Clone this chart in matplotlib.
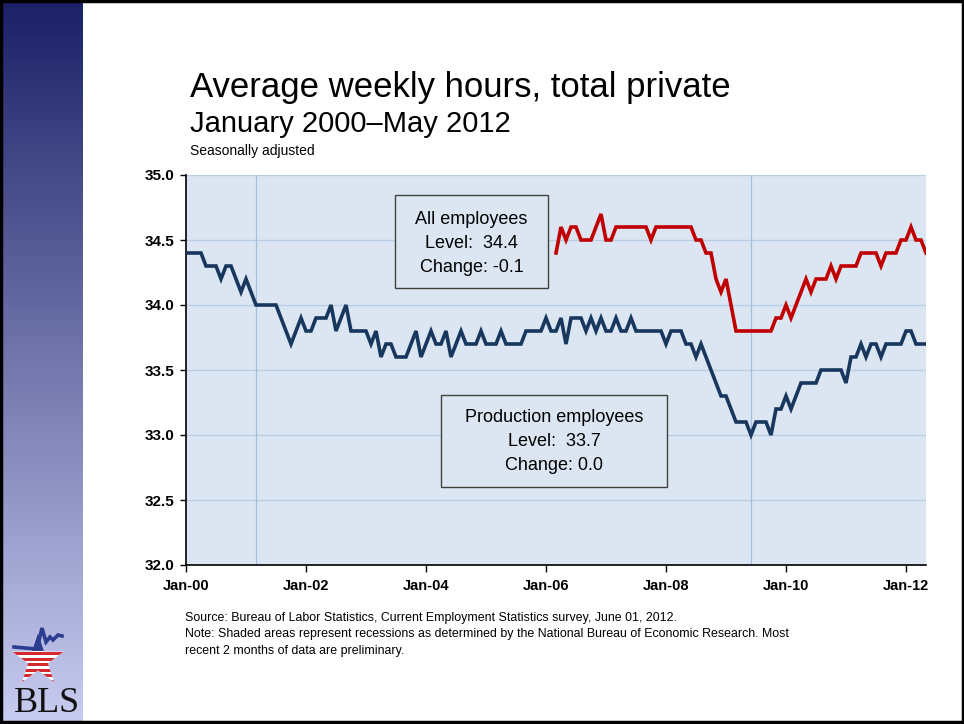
"""
Average weekly hours, total private (BLS chart)
"""

import numpy as np
import matplotlib
matplotlib.use('Agg')
import matplotlib.pyplot as plt
from matplotlib import font_manager
from matplotlib.patches import Rectangle, Polygon

# ------------------------------------------------------------------ data
# monthly, Jan 2000 .. May 2012 (index 0 = Jan-00)
production = [
    34.4, 34.4, 34.4, 34.4, 34.3, 34.3, 34.3, 34.2, 34.3, 34.3, 34.2, 34.1,  # 2000
    34.2, 34.1, 34.0, 34.0, 34.0, 34.0, 34.0, 33.9, 33.8, 33.7, 33.8, 33.9,  # 2001
    33.8, 33.8, 33.9, 33.9, 33.9, 34.0, 33.8, 33.9, 34.0, 33.8, 33.8, 33.8,  # 2002
    33.8, 33.7, 33.8, 33.6, 33.7, 33.7, 33.6, 33.6, 33.6, 33.7, 33.8, 33.6,  # 2003
    33.7, 33.8, 33.7, 33.7, 33.8, 33.6, 33.7, 33.8, 33.7, 33.7, 33.7, 33.8,  # 2004
    33.7, 33.7, 33.7, 33.8, 33.7, 33.7, 33.7, 33.7, 33.8, 33.8, 33.8, 33.8,  # 2005
    33.9, 33.8, 33.8, 33.9, 33.7, 33.9, 33.9, 33.9, 33.8, 33.9, 33.8, 33.9,  # 2006
    33.8, 33.8, 33.9, 33.8, 33.8, 33.9, 33.8, 33.8, 33.8, 33.8, 33.8, 33.8,  # 2007
    33.7, 33.8, 33.8, 33.8, 33.7, 33.7, 33.6, 33.7, 33.6, 33.5, 33.4, 33.3,  # 2008
    33.3, 33.2, 33.1, 33.1, 33.1, 33.0, 33.1, 33.1, 33.1, 33.0, 33.2, 33.2,  # 2009
    33.3, 33.2, 33.3, 33.4, 33.4, 33.4, 33.4, 33.5, 33.5, 33.5, 33.5, 33.5,  # 2010
    33.4, 33.6, 33.6, 33.7, 33.6, 33.7, 33.7, 33.6, 33.7, 33.7, 33.7, 33.7,  # 2011
    33.8, 33.8, 33.7, 33.7, 33.7,                                            # 2012
]

# all employees series starts Mar 2006 (index 74)
all_start = 74
all_employees = [
    34.4, 34.6, 34.5, 34.6, 34.6, 34.5, 34.5, 34.5, 34.6, 34.7,              # 2006
    34.5, 34.5, 34.6, 34.6, 34.6, 34.6, 34.6, 34.6, 34.6, 34.5, 34.6, 34.6,  # 2007
    34.6, 34.6, 34.6, 34.6, 34.6, 34.6, 34.5, 34.5, 34.4, 34.4, 34.2, 34.1,  # 2008
    34.2, 34.0, 33.8, 33.8, 33.8, 33.8, 33.8, 33.8, 33.8, 33.8, 33.9, 33.9,  # 2009
    34.0, 33.9, 34.0, 34.1, 34.2, 34.1, 34.2, 34.2, 34.2, 34.3, 34.2, 34.3,  # 2010
    34.3, 34.3, 34.3, 34.4, 34.4, 34.4, 34.4, 34.3, 34.4, 34.4, 34.4, 34.5,  # 2011
    34.5, 34.6, 34.5, 34.5, 34.4,                                            # 2012
]

tick_pos = [0, 24, 48, 72, 96, 120, 144]
tick_labels = ['Jan-00', 'Jan-02', 'Jan-04', 'Jan-06', 'Jan-08', 'Jan-10', 'Jan-12']
y_ticks = [32.0, 32.5, 33.0, 33.5, 34.0, 34.5, 35.0]
recession_marks = [14, 113]   # Mar 2001, Jun 2009

all_box = ['All employees', 'Level:  34.4', 'Change: -0.1']
prod_box = ['Production employees', 'Level:  33.7', 'Change: 0.0']

source_lines = [
    'Source: Bureau of Labor Statistics, Current Employment Statistics survey, June 01, 2012.',
    'Note: Shaded areas represent recessions as determined by the National Bureau of Economic Research. Most',
    'recent 2 months of data are preliminary.',
]

# ------------------------------------------------------------------ fonts
names = {f.name for f in font_manager.fontManager.ttflist}
main_font = 'Liberation Sans'
if 'Liberation Sans Narrow' in names:
    note_font, note_size = 'Liberation Sans Narrow', 9.6
else:
    note_font, note_size = 'Liberation Sans', 8.9
plt.rcParams['font.family'] = [main_font, 'DejaVu Sans']

W, H = 964, 724
fig = plt.figure(figsize=(W / 100, H / 100), dpi=100)
fig.patch.set_facecolor('white')

# background layer in pixel coordinates
bg = fig.add_axes([0, 0, 1, 1], zorder=0)
bg.set_xlim(0, W)
bg.set_ylim(H, 0)
bg.axis('off')

# sidebar gradient
top_c = np.array([28, 33, 104]) / 255
bot_c = np.array([200, 204, 240]) / 255
t = np.linspace(0, 1, 256)[:, None]
grad = (top_c * (1 - t) + bot_c * t)[:, None, :]
bg.imshow(grad, extent=[3, 83, 721, 3], aspect='auto', zorder=1)

# ------------------------------------------------------------------ BLS logo
cx, cy, r_out, r_in = 38, 660, 27, 10.5
ang = np.pi / 2 + np.arange(10) * np.pi / 5
rr = np.where(np.arange(10) % 2 == 0, r_out, r_in)
star_pts = np.column_stack([cx + rr * np.cos(ang), cy - rr * np.sin(ang)])
star = Polygon(star_pts, closed=True, fc='white', ec='none', zorder=2)
bg.add_patch(star)
blue_top = Rectangle((0, 620), 90, 31, fc='#2b3d8f', ec='none', zorder=3)
bg.add_patch(blue_top)
blue_top.set_clip_path(star)
for k in range(6):
    s = Rectangle((0, 652 + k * 5.6), 90, 3.0, fc='#d42a2f', ec='none', zorder=3)
    bg.add_patch(s)
    s.set_clip_path(star)
bg.plot([14, 37, 42, 46, 50, 53, 58, 62], [647, 649, 628, 642, 637, 640, 635, 636],
        color='#2b3d8f', lw=2.6, zorder=4, solid_joinstyle='miter')
bg.text(47, 712, 'BLS', family='Liberation Serif', fontsize=26, color='#111111',
        ha='center', va='baseline', zorder=4)

# frame
bg.add_patch(Rectangle((1, 1), W - 2.5, H - 3, fill=False, ec='black', lw=2.5, zorder=5))

# ------------------------------------------------------------------ chart
ax = fig.add_axes([186 / W, (H - 565) / H, 740 / W, 390 / H], zorder=1)
ax.set_facecolor('#dce6f2')
x_prod = np.arange(len(production))
x_all = np.arange(all_start, all_start + len(all_employees))

for yv in y_ticks[1:]:
    ax.axhline(yv, color='#b9cde5', lw=1, zorder=1)
for m in recession_marks:
    ax.axvline(m, color='#a5bfe0', lw=0.9, zorder=1)

ax.plot(x_prod, production, color='#17375e', lw=2.6, zorder=3, solid_joinstyle='miter')
ax.plot(x_all, all_employees, color='#c00000', lw=2.6, zorder=3, solid_joinstyle='miter')

ax.set_xlim(0, len(production) - 1)
ax.set_ylim(32, 35)
ax.set_xticks(tick_pos)
ax.set_xticklabels(tick_labels, fontsize=10.5, fontweight='bold')
ax.set_yticks(y_ticks)
ax.set_yticklabels(['{:.1f}'.format(v) for v in y_ticks], fontsize=11, fontweight='bold')
ax.tick_params(axis='x', length=5, width=1, pad=5)
ax.tick_params(axis='y', length=4, width=1, pad=4)
for side in ['top', 'right']:
    ax.spines[side].set_visible(False)
for side in ['left', 'bottom']:
    ax.spines[side].set_linewidth(1.2)
    ax.spines[side].set_color('black')

# ------------------------------------------------------------------ foreground texts
fg = fig.add_axes([0, 0, 1, 1], zorder=3)
fg.set_xlim(0, W)
fg.set_ylim(H, 0)
fg.axis('off')
fg.patch.set_alpha(0)

fg.text(190, 97, 'Average weekly hours, total private', fontsize=25, va='baseline')
fg.text(190, 132, 'January 2000\u2013May 2012', fontsize=21, va='baseline')
fg.text(190, 155, 'Seasonally adjusted', fontsize=10, va='baseline')

fg.add_patch(Rectangle((395, 195), 153, 93, fc='#dce6f2', ec='#404040', lw=1))
for k, line in enumerate(all_box):
    fg.text(471.5, 219 + k * 24, line, fontsize=13, ha='center', va='center')

fg.add_patch(Rectangle((441, 395), 226, 92, fc='#dce6f2', ec='#404040', lw=1))
for k, line in enumerate(prod_box):
    fg.text(554, 417 + k * 24, line, fontsize=13, ha='center', va='center')

for k, line in enumerate(source_lines):
    fg.text(185, 618 + k * 16.5, line, family=[note_font, 'DejaVu Sans'],
            fontsize=note_size, va='center')

fig.savefig('out.png', dpi=100)
